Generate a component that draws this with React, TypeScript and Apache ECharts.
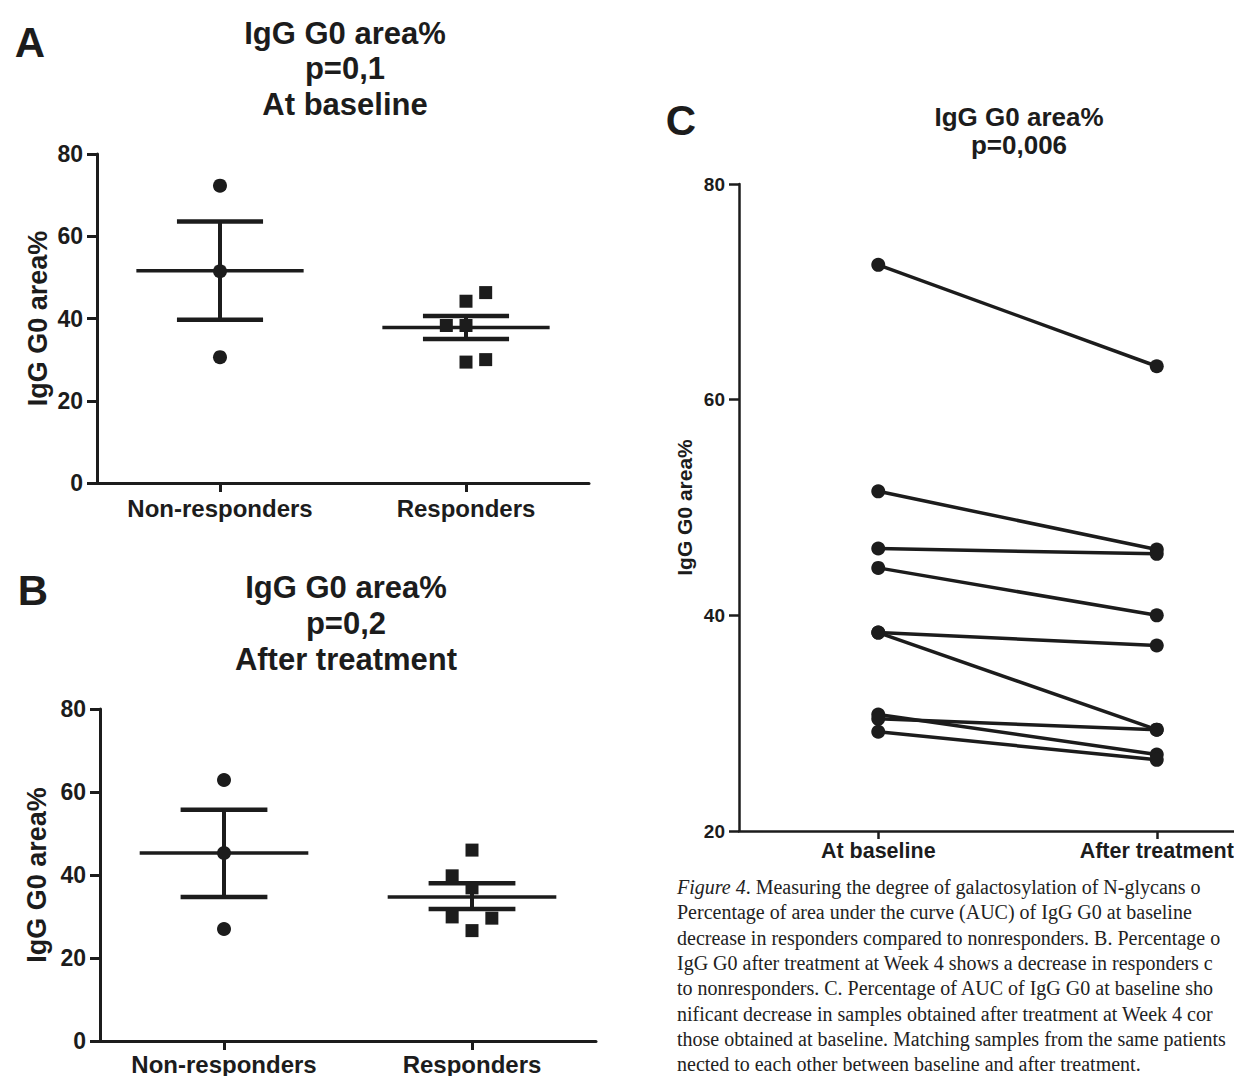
import React, { useEffect, useRef } from "react";
import * as echarts from "echarts";

// ---------- data ----------
const groupsAB = ["Non-responders", "Responders"];
const groupsC = ["At baseline", "After treatment"];
const yTicksAB = { min: 0, max: 80, step: 20 };
const yTicksC = { min: 20, max: 80, step: 20 };

// Panel A: at baseline
const aNonResponders = [72.3, 51.5, 30.6];
const aResponders = [46.3, 44.2, 38.3, 38.3, 29.4, 30.0];
const aRespJitter = [0.08, 0, -0.08, 0, 0, 0.08];
const aMean = [51.6, 37.8];
const aSemLow = [39.7, 35.0];
const aSemHigh = [63.6, 40.6];

// Panel B: after treatment
const bNonResponders = [62.9, 45.3, 27.0];
const bResponders = [46.0, 39.8, 36.9, 29.9, 29.6, 26.6];
const bRespJitter = [0, -0.08, 0, -0.08, 0.08, 0];
const bMean = [45.3, 34.7];
const bSemLow = [34.7, 31.8];
const bSemHigh = [55.7, 38.0];

// Panel C: paired samples
const cBaseline = [72.5, 51.5, 46.2, 44.4, 38.4, 38.4, 30.8, 30.4, 29.2];
const cAfter = [63.1, 46.1, 45.7, 40.0, 37.2, 29.4, 27.1, 29.4, 26.6];

const titleA = ["IgG G0 area%", "p=0,1", "At baseline"];
const titleB = ["IgG G0 area%", "p=0,2", "After treatment"];
const titleC = ["IgG G0 area%", "p=0,006"];
const yName = "IgG G0 area%";

const captionLines = [
  "{i|Figure 4}. Measuring the degree of galactosylation of N-glycans o",
  "Percentage of area under the curve (AUC) of IgG G0 at baseline",
  "decrease in responders compared to nonresponders. B. Percentage o",
  "IgG G0 after treatment at Week 4 shows a decrease in responders c",
  "to nonresponders. C. Percentage of AUC of IgG G0 at baseline sho",
  "nificant decrease in samples obtained after treatment at Week 4 cor",
  "those obtained at baseline. Matching samples from the same patients",
  "nected to each other between baseline and after treatment.",
];

// ---------- styles ----------
const INK = "#1c1c1c";
const SANS = "'Liberation Sans', Arial, Helvetica, sans-serif";
const SERIF = "'Liberation Serif', 'Times New Roman', serif";

function catAxis(gridIndex: number, data: string[], fontSize: number, margin: number, lw: number, tick: number) {
  return {
    type: "category",
    gridIndex,
    data,
    boundaryGap: true,
    axisLine: { show: true, onZero: false, lineStyle: { color: INK, width: lw } },
    axisTick: { show: true, alignWithLabel: true, length: tick, lineStyle: { color: INK, width: lw } },
    axisLabel: { color: INK, fontSize, fontWeight: "bold", fontFamily: SANS, margin },
    splitLine: { show: false },
  };
}

function hiddenX(gridIndex: number) {
  return {
    type: "value",
    gridIndex,
    min: -0.5,
    max: 1.5,
    show: false,
    axisLine: { onZero: false },
    splitLine: { show: false },
  };
}

function valAxis(
  gridIndex: number,
  t: { min: number; max: number; step: number },
  fontSize: number,
  nameSize: number,
  nameGap: number,
  lw: number,
  tick: number,
  margin: number
) {
  return {
    type: "value",
    gridIndex,
    min: t.min,
    max: t.max,
    interval: t.step,
    name: yName,
    nameLocation: "middle",
    nameGap,
    nameTextStyle: { color: INK, fontSize: nameSize, fontWeight: "bold", fontFamily: SANS },
    axisLine: { show: true, onZero: false, lineStyle: { color: INK, width: lw } },
    axisTick: { show: true, length: tick, lineStyle: { color: INK, width: lw } },
    axisLabel: { color: INK, fontSize, fontWeight: "bold", fontFamily: SANS, margin },
    splitLine: { show: false },
  };
}

function errorSeries(xIdx: number, yIdx: number, mean: number[], lo: number[], hi: number[]) {
  return {
    type: "custom",
    xAxisIndex: xIdx,
    yAxisIndex: yIdx,
    data: mean.map((m, i) => [i, m, lo[i], hi[i]]),
    encode: { x: 0, y: [1, 2, 3] },
    z: 3,
    renderItem: (params: any, api: any) => {
      const x = api.value(0);
      const m = api.value(1);
      const l = api.value(2);
      const h = api.value(3);
      const ml = api.coord([x - 0.34, m]);
      const mr = api.coord([x + 0.34, m]);
      const ll = api.coord([x - 0.175, l]);
      const lr = api.coord([x + 0.175, l]);
      const hl = api.coord([x - 0.175, h]);
      const hr = api.coord([x + 0.175, h]);
      const cl = api.coord([x, l]);
      const ch = api.coord([x, h]);
      const line = (a: number[], b: number[], w: number) => ({
        type: "line",
        shape: { x1: a[0], y1: a[1], x2: b[0], y2: b[1] },
        style: { stroke: INK, lineWidth: w },
      });
      return {
        type: "group",
        children: [line(ml, mr, 3.5), line(cl, ch, 4), line(ll, lr, 4.5), line(hl, hr, 4.5)],
      };
    },
  };
}

function textEl(x: number, y: number, text: string, fontSize: number, align = "center", extra: any = {}) {
  return {
    type: "text",
    x,
    y,
    silent: true,
    style: {
      text,
      fontSize,
      fontWeight: "bold",
      fontFamily: SANS,
      fill: INK,
      align,
      verticalAlign: "middle",
      ...extra,
    },
  };
}

export default function App() {
  const ref = useRef<HTMLDivElement>(null);

  useEffect(() => {
    document.body.style.margin = "0";
    if (!ref.current) return;
    const chart = echarts.init(ref.current, undefined, { renderer: "svg" });

    const graphics: any[] = [];
    graphics.push(textEl(30, 42, "A", 42));
    graphics.push(textEl(33, 590, "B", 42));
    graphics.push(textEl(681, 120, "C", 42));
    titleA.forEach((t, i) => graphics.push(textEl(345, 33 + i * 35.5, t, 31)));
    titleB.forEach((t, i) => graphics.push(textEl(346, 587 + i * 36, t, 31)));
    titleC.forEach((t, i) => graphics.push(textEl(1019, 117 + i * 28, t, 26)));
    captionLines.forEach((t, i) =>
      graphics.push({
        type: "text",
        x: 677,
        y: 887 + i * 25.3,
        silent: true,
        style: {
          text: t,
          fontSize: 20,
          fontFamily: SERIF,
          fill: "#222",
          align: "left",
          verticalAlign: "middle",
          rich: { i: { fontStyle: "italic", fontSize: 20, fontFamily: SERIF, fill: "#222" } },
        },
      })
    );

    const lineSeriesC = cBaseline.map((b, i) => ({
      type: "line",
      xAxisIndex: 4,
      yAxisIndex: 2,
      data: [b, cAfter[i]],
      symbol: "circle",
      symbolSize: 14,
      lineStyle: { color: INK, width: 3.5 },
      itemStyle: { color: INK, opacity: 1 },
      z: 3,
    }));

    const option: any = {
      animation: false,
      backgroundColor: "#ffffff",
      textStyle: { fontFamily: SANS },
      grid: [
        { left: 97, top: 154, width: 492, height: 329, outerBoundsMode: "none", containLabel: false },
        { left: 100, top: 709, width: 496, height: 332, outerBoundsMode: "none", containLabel: false },
        { left: 739, top: 184, width: 557, height: 647, outerBoundsMode: "none", containLabel: false },
      ],
      xAxis: [
        catAxis(0, groupsAB, 24, 13, 3, 9),
        hiddenX(0),
        catAxis(1, groupsAB, 24, 11, 3, 9),
        hiddenX(1),
        catAxis(2, groupsC, 21.5, 9, 2.5, 8),
      ],
      yAxis: [
        valAxis(0, yTicksAB, 23, 27, 46, 3, 10, 14),
        valAxis(1, yTicksAB, 23, 27, 50, 3, 10, 14),
        valAxis(2, yTicksC, 19, 21, 44, 2.5, 10, 14),
      ],
      series: [
        errorSeries(1, 0, aMean, aSemLow, aSemHigh),
        {
          type: "scatter",
          xAxisIndex: 1,
          yAxisIndex: 0,
          data: aNonResponders.map((v) => [0, v]),
          symbol: "circle",
          symbolSize: 14,
          itemStyle: { color: INK, opacity: 1 },
        },
        {
          type: "scatter",
          xAxisIndex: 1,
          yAxisIndex: 0,
          data: aResponders.map((v, i) => [1 + aRespJitter[i], v]),
          symbol: "rect",
          symbolSize: 13,
          itemStyle: { color: INK, opacity: 1 },
        },
        errorSeries(3, 1, bMean, bSemLow, bSemHigh),
        {
          type: "scatter",
          xAxisIndex: 3,
          yAxisIndex: 1,
          data: bNonResponders.map((v) => [0, v]),
          symbol: "circle",
          symbolSize: 14,
          itemStyle: { color: INK, opacity: 1 },
        },
        {
          type: "scatter",
          xAxisIndex: 3,
          yAxisIndex: 1,
          data: bResponders.map((v, i) => [1 + bRespJitter[i], v]),
          symbol: "rect",
          symbolSize: 13,
          itemStyle: { color: INK, opacity: 1 },
        },
        ...lineSeriesC,
      ],
      graphic: graphics,
    };

    chart.setOption(option);
    return () => chart.dispose();
  }, []);

  return <div ref={ref} style={{ width: 1234, height: 1076 }} />;
}
